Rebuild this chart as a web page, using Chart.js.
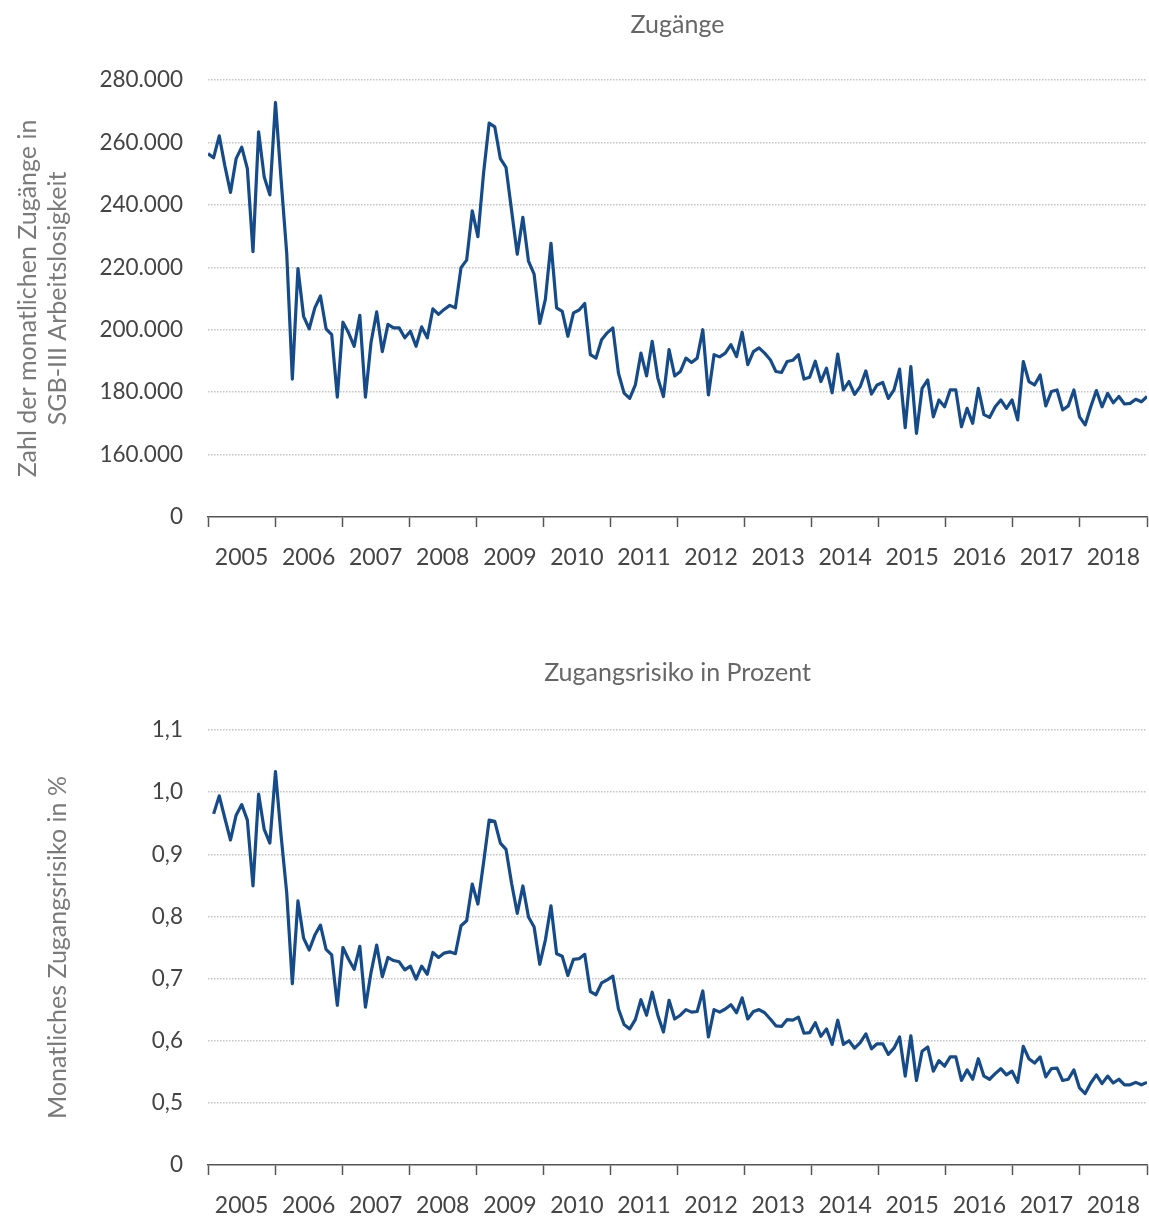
<!DOCTYPE html>
<html lang="de">
<head>
<meta charset="utf-8">
<title>Zugänge und Zugangsrisiko</title>
<script src="https://cdn.jsdelivr.net/npm/chart.js@4/dist/chart.umd.min.js"></script>
<style>
  html, body { margin: 0; padding: 0; background: #fff; overflow: hidden; }
  .panel { position: absolute; left: 0; width: 1149px; height: 575px; }
  #p1 { top: 0; }
  #p2 { top: 648px; }
</style>
</head>
<body>
<div class="panel" id="p1"><canvas id="c1" width="1149" height="575"></canvas></div>
<div class="panel" id="p2"><canvas id="c2" width="1149" height="575"></canvas></div>
<script>
// Jahre der x-Achse (je 12 Monatswerte)
const years = ['2005', '2006', '2007', '2008', '2009', '2010', '2011',
               '2012', '2013', '2014', '2015', '2016', '2017', '2018'];

// Monatliche Zugänge in SGB-III-Arbeitslosigkeit, Jan 2005 – Dez 2018
const zugaenge = [
  256400, 255100, 262100, 252500, 244000, 254800, 258500, 251600, 225000, 263400, 248900, 243200,
  272800, 248000, 224500, 184200, 219600, 204300, 200300, 207000, 210800, 200300, 198400, 178400,
  202400, 199000, 194700, 204600, 178400, 196000, 205700, 193000, 201700, 200600, 200600, 197400,
  199500, 194700, 200900, 197400, 206700, 204900, 206500, 207800, 207000, 219900, 222300, 238100,
  229800, 250000, 266200, 265000, 254800, 252000, 238100, 224200, 236000, 222000, 217800, 202000,
  209700, 227700, 207000, 205900, 197900, 205400, 206300, 208400, 192000, 190900, 196800, 199000,
  200600, 186100, 179700, 178000, 182300, 192500, 185200, 196300, 184500, 178600, 193600, 185200,
  186600, 190900, 189500, 190900, 200000, 179100, 192000, 191300, 192500, 195200, 191400, 199200,
  188800, 193000, 194200, 192500, 190400, 186600, 186300, 189800, 190200, 192000, 184200, 184800,
  189900, 183400, 187700, 179800, 192200, 180700, 183400, 179300, 181800, 186800, 179400, 182300,
  183100, 178000, 180700, 187400, 168600, 188200, 166800, 181200, 183900, 172100, 177500, 175300,
  180700, 180700, 168900, 174800, 170000, 181200, 172800, 171900, 175300, 177500, 174800, 177500,
  171100, 189800, 183400, 182300, 185500, 175600, 180200, 180700, 174300, 175600, 180700, 172100,
  169500, 175300, 180500, 175300, 179600, 176600, 178600, 176200, 176400, 177700, 176900, 178600
];

// Monatliches Zugangsrisiko in Prozent (Januar 2005 ohne Wert)
const zugangsrisiko = [
  null,  0.965, 0.994, 0.958, 0.923, 0.963, 0.980, 0.955, 0.849, 0.997, 0.940, 0.918,
  1.033, 0.930, 0.838, 0.692, 0.825, 0.765, 0.746, 0.770, 0.786, 0.747, 0.738, 0.657,
  0.750, 0.731, 0.715, 0.752, 0.654, 0.710, 0.754, 0.703, 0.734, 0.729, 0.727, 0.714,
  0.720, 0.699, 0.720, 0.707, 0.742, 0.734, 0.741, 0.743, 0.740, 0.785, 0.793, 0.852,
  0.820, 0.886, 0.955, 0.953, 0.918, 0.908, 0.853, 0.805, 0.849, 0.799, 0.783, 0.723,
  0.762, 0.817, 0.740, 0.736, 0.705, 0.731, 0.732, 0.739, 0.679, 0.674, 0.693, 0.698,
  0.704, 0.651, 0.626, 0.619, 0.634, 0.666, 0.641, 0.678, 0.641, 0.614, 0.665, 0.635,
  0.641, 0.650, 0.646, 0.647, 0.680, 0.606, 0.650, 0.646, 0.651, 0.658, 0.645, 0.669,
  0.635, 0.647, 0.650, 0.645, 0.635, 0.624, 0.623, 0.634, 0.633, 0.638, 0.612, 0.613,
  0.629, 0.607, 0.619, 0.594, 0.633, 0.594, 0.600, 0.588, 0.597, 0.611, 0.587, 0.595,
  0.595, 0.578, 0.588, 0.606, 0.543, 0.608, 0.536, 0.583, 0.590, 0.551, 0.568, 0.559,
  0.574, 0.574, 0.536, 0.553, 0.538, 0.571, 0.543, 0.538, 0.547, 0.555, 0.545, 0.551,
  0.533, 0.591, 0.571, 0.564, 0.574, 0.542, 0.555, 0.556, 0.536, 0.538, 0.553, 0.524,
  0.515, 0.532, 0.545, 0.531, 0.543, 0.532, 0.538, 0.529, 0.529, 0.533, 0.529, 0.533
];

// Achsenbereiche: der unterste Tick wird nach dem Achsenbruch als „0" beschriftet
const zugaengeAxis = { min: 140000, max: 280000, step: 20000 };
const risikoAxis = { min: 0.4, max: 1.1, step: 0.1 };

const FONT = 'Lato, "Open Sans", sans-serif';
const LINE_COLOR = '#164b8a';
const lastIdx = zugaenge.length - 1;
const yearSpan = lastIdx / years.length;

function fmtThousands(v) {
  return String(Math.round(v)).replace(/\B(?=(\d{3})+(?!\d))/g, '.');
}
function fmtDecimal(v) {
  return v.toFixed(1).replace('.', ',');
}

function xScaleOptions() {
  return {
    type: 'linear',
    min: 0,
    max: lastIdx,
    afterBuildTicks(scale) {
      // Tickstriche an den Jahresgrenzen, Jahreszahlen mittig dazwischen
      const t = [];
      for (let k = 0; k <= years.length; k++) {
        t.push({ value: k * yearSpan, bound: true });
        if (k < years.length) t.push({ value: (k + 0.5) * yearSpan, year: years[k] });
      }
      scale.ticks = t;
    },
    afterFit(scale) {
      scale.height = 58;
      scale.paddingLeft = 0;
      scale.paddingRight = 0;
    },
    ticks: {
      autoSkip: false,
      maxRotation: 0,
      padding: 17,
      color: '#444',
      font: { family: FONT, size: 23 },
      callback(value, index, ticks) { return ticks[index].year || ''; }
    },
    grid: {
      drawOnChartArea: false,
      drawTicks: true,
      tickLength: 10,
      tickWidth: 1.5,
      tickColor: (ctx) => (ctx.tick && ctx.tick.bound) ? '#555' : 'rgba(0,0,0,0)'
    },
    border: { display: true, color: '#555', width: 1.5 }
  };
}

function yScaleOptions(axis, fmt, titleText, titlePad) {
  return {
    type: 'linear',
    min: axis.min,
    max: axis.max,
    afterFit(scale) { scale.width = 208; },
    ticks: {
      stepSize: axis.step,
      padding: 25,
      color: '#444',
      font: { family: FONT, size: 22.5 },
      callback(value) { return value <= axis.min + axis.step / 100 ? '0' : fmt(value); }
    },
    grid: {
      drawTicks: false,
      lineWidth: 1.5,
      color: (ctx) => ctx.index === 0 ? 'rgba(0,0,0,0)' : '#c4c4c4'
    },
    border: { display: false, dash: [1.5, 1.5] },
    title: {
      display: true,
      text: titleText,
      color: '#7a7a7a',
      font: { family: FONT, size: 25, lineHeight: 1.2 },
      padding: { top: titlePad, bottom: 0 }
    }
  };
}

function makeChart(canvasId, title, titleGap, values, axis, fmt, yTitle, yTitlePad) {
  return new Chart(document.getElementById(canvasId), {
    type: 'line',
    data: {
      datasets: [{
        data: values.map((v, i) => ({ x: i, y: v })),
        borderColor: LINE_COLOR,
        borderWidth: 3.2,
        borderJoinStyle: 'round',
        pointRadius: 0,
        tension: 0,
        fill: false,
        spanGaps: false
      }]
    },
    options: {
      responsive: false,
      animation: false,
      devicePixelRatio: 1,
      layout: { padding: { left: 0, right: 2, top: 0, bottom: 0 } },
      plugins: {
        legend: { display: false },
        tooltip: { enabled: false },
        title: {
          display: true,
          text: title,
          fullSize: false,
          color: '#666',
          font: { family: FONT, size: 25, weight: 'normal', lineHeight: 1.2 },
          padding: { top: 10, bottom: titleGap }
        }
      },
      scales: {
        x: xScaleOptions(),
        y: yScaleOptions(axis, fmt, yTitle, yTitlePad)
      }
    }
  });
}

makeChart('c1', 'Zugänge', 40, zugaenge, zugaengeAxis, fmtThousands,
  ['Zahl der monatlichen Zugänge in', 'SGB-III Arbeitslosigkeit'], 13);
makeChart('c2', 'Zugangsrisiko in Prozent', 42, zugangsrisiko, risikoAxis, fmtDecimal,
  'Monatliches Zugangsrisiko in %', 43);
</script>
</body>
</html>
